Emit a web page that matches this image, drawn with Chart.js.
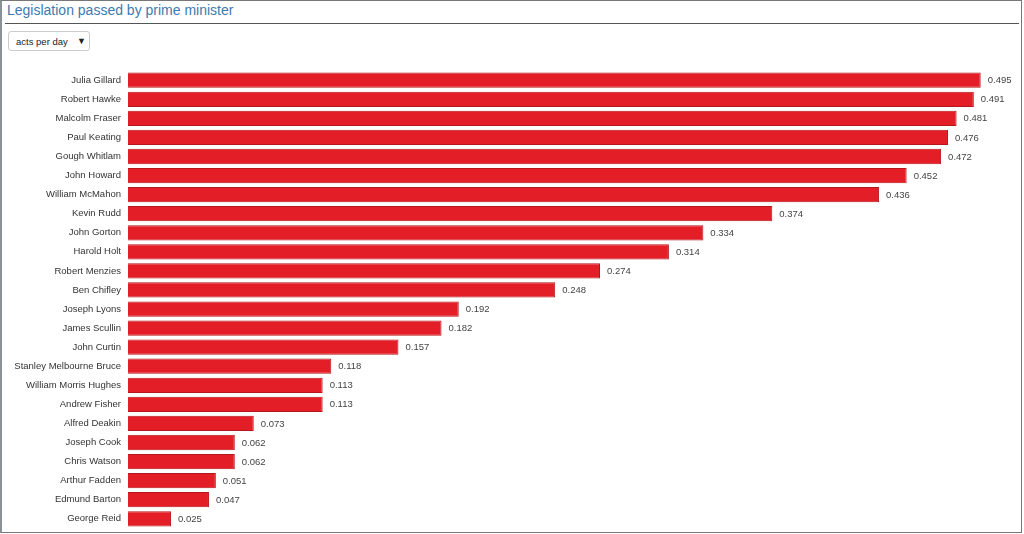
<!DOCTYPE html>
<html>
<head>
<meta charset="utf-8">
<script src="https://cdn.jsdelivr.net/npm/chart.js@4.4.0/dist/chart.umd.min.js"></script>
<style>
    html, body { margin: 0; padding: 0; background: #fff; }
    body { width: 1024px; height: 534px; position: relative; overflow: hidden; font-family: "Liberation Sans", Arial, sans-serif; }
    .frame { position: absolute; left: 0; top: 0; width: 1019px; height: 531px; border: 1px solid #777; border-left: 2px solid #8a9298; }
    .title { position: absolute; left: 7px; top: 2px; font-size: 14px; color: #3d7ab0; }
    .rule { position: absolute; left: 5px; top: 23px; width: 1014px; height: 1px; background: #555; }
    .select { position: absolute; left: 8px; top: 31px; width: 80px; height: 18px; border: 1px solid #ccc; border-radius: 3px; font-size: 9.5px; color: #222; }
    .select span { position: absolute; left: 7px; top: 4px; }
    .select b { position: absolute; left: 68px; top: 4px; font-size: 9px; font-weight: normal; }
    #legChart { position: absolute; left: 0; top: 58px; }
</style>
</head>
<body>
<div class="frame"></div>
<div class="title">Legislation passed by prime minister</div>
<div class="rule"></div>
<div class="select"><span>acts per day</span><b>&#9660;</b></div>
<canvas id="legChart" width="1020" height="483"></canvas>
<script>
const ministers = ['Julia Gillard', 'Robert Hawke', 'Malcolm Fraser', 'Paul Keating', 'Gough Whitlam',
    'John Howard', 'William McMahon', 'Kevin Rudd', 'John Gorton', 'Harold Holt', 'Robert Menzies',
    'Ben Chifley', 'Joseph Lyons', 'James Scullin', 'John Curtin', 'Stanley Melbourne Bruce',
    'William Morris Hughes', 'Andrew Fisher', 'Alfred Deakin', 'Joseph Cook', 'Chris Watson',
    'Arthur Fadden', 'Edmund Barton', 'George Reid'];
const actsPerDay = [0.495, 0.491, 0.481, 0.476, 0.472, 0.452, 0.436, 0.374, 0.334, 0.314, 0.274,
    0.248, 0.192, 0.182, 0.157, 0.118, 0.113, 0.113, 0.073, 0.062, 0.062, 0.051, 0.047, 0.025];

// value labels to the right of each bar
const valueLabels = {
    id: 'valueLabels',
    afterDatasetsDraw(chart) {
        const ctx = chart.ctx;
        const meta = chart.getDatasetMeta(0);
        ctx.save();
        ctx.font = '9.5px "Liberation Sans", Arial, sans-serif';
        ctx.fillStyle = '#444';
        ctx.textBaseline = 'middle';
        ctx.textAlign = 'left';
        meta.data.forEach((bar, i) => {
            ctx.fillText(actsPerDay[i].toFixed(3), bar.x + 7, bar.y + 0.5);
        });
        ctx.restore();
    }
};

new Chart(document.getElementById('legChart').getContext('2d'), {
    type: 'bar',
    data: {
        labels: ministers,
        datasets: [{
            data: actsPerDay,
            backgroundColor: '#e31e26',
            borderColor: '#b5161c',
            borderWidth: 1,
            barPercentage: 0.8,
            categoryPercentage: 1.0
        }]
    },
    options: {
        indexAxis: 'y',
        responsive: false,
        animation: false,
        layout: { padding: { right: 10 } },
        plugins: {
            legend: { display: false },
            tooltip: { enabled: false }
        },
        scales: {
            x: {
                display: false,
                min: 0,
                max: 0.512
            },
            y: {
                grid: { display: false, drawTicks: false },
                border: { display: false },
                ticks: {
                    padding: 7,
                    color: '#333',
                    font: { family: '"Liberation Sans", Arial, sans-serif', size: 9.5 }
                },
                afterFit(scale) {
                    scale.width = 128;
                }
            }
        }
    },
    plugins: [valueLabels]
});
</script>
</body>
</html>
